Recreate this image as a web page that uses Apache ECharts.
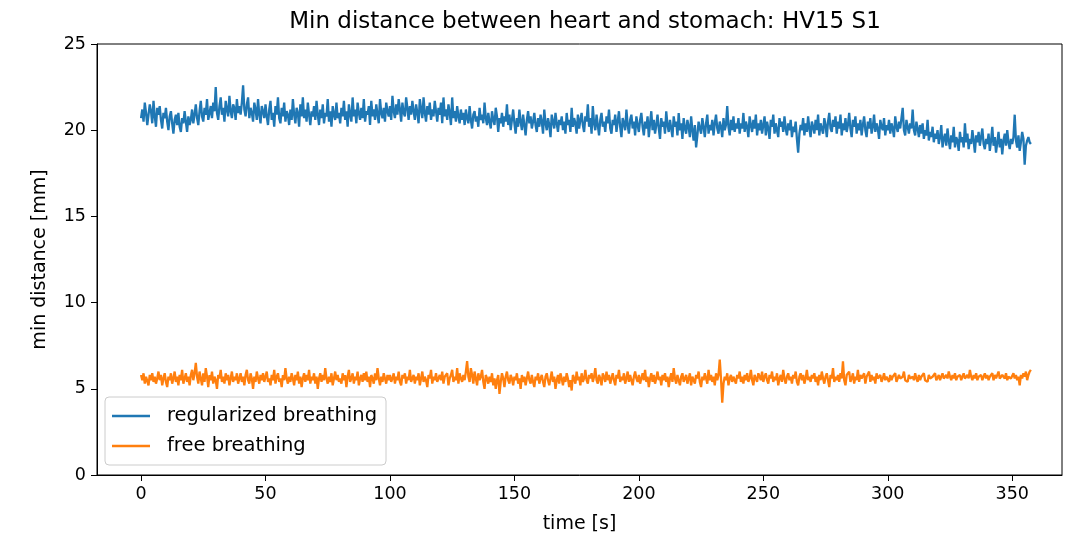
<!DOCTYPE html>
<html>
<head>
<meta charset="utf-8">
<script src="https://cdn.jsdelivr.net/npm/echarts@6/dist/echarts.min.js"></script>
<style>html,body{margin:0;padding:0;background:#fff}#c{width:1075px;height:536px}</style>
</head>
<body>
<div id="c"></div>
<script>
// Sampling step of the recordings [s]
const sampleStep = 0.5;

const regularized = [
20.7,21.2,20.5,21.6,21.0,20.3,20.9,21.5,21.1,20.4,21.7,20.8,20.2,21.3,20.9,21.4,20.6,20.1,21.0,20.7,
21.3,20.5,20.0,20.8,21.1,20.4,19.8,20.6,20.9,20.3,21.0,20.2,19.9,20.7,20.4,21.1,20.5,19.9,20.8,20.3,
20.6,21.2,20.4,20.9,21.5,20.7,20.3,21.1,21.7,20.8,20.5,21.3,20.9,21.8,20.6,21.0,21.4,20.7,21.6,21.1,
22.5,21.0,20.6,21.4,21.9,20.9,21.3,20.5,21.7,21.2,20.8,22.0,21.1,20.7,21.5,21.3,20.6,21.8,21.0,21.4,
20.9,21.6,22.6,21.2,20.8,21.5,21.9,20.7,21.3,21.0,20.5,21.6,21.2,20.6,21.8,20.9,20.4,21.4,21.1,20.7,
21.5,20.8,20.3,21.2,21.7,20.6,21.0,20.2,21.4,20.9,21.9,20.7,20.4,21.3,20.8,21.6,20.5,21.1,20.9,20.3,
21.2,20.6,21.8,20.9,20.4,21.3,21.0,20.2,21.5,20.8,21.9,20.7,21.2,20.5,21.6,20.9,20.3,21.1,20.8,21.4,
20.6,21.7,20.9,20.3,21.2,20.7,21.5,20.4,21.0,20.8,21.8,20.5,21.1,20.2,21.4,20.9,20.6,21.6,20.7,21.0,
20.4,21.3,20.8,21.7,20.6,21.1,20.2,21.5,20.9,20.5,21.9,20.8,21.2,20.4,21.6,21.0,20.6,21.3,20.7,21.8,
20.5,21.1,20.9,21.4,20.3,21.7,20.8,21.2,20.6,21.5,20.9,20.4,21.8,21.0,20.7,21.3,20.5,21.6,21.1,20.8,
21.4,20.6,22.0,21.1,20.7,21.5,20.9,21.8,21.2,20.5,21.6,21.0,20.8,21.9,21.3,20.6,21.4,20.9,21.7,21.1,
20.6,21.5,21.0,20.4,21.8,21.2,20.7,21.9,21.0,20.5,21.4,20.9,21.6,20.6,21.2,20.8,21.7,21.1,20.5,21.3,
20.9,21.6,20.4,21.9,20.8,21.2,20.6,21.5,21.0,20.3,21.9,20.7,21.1,20.5,21.4,20.8,20.4,21.2,20.6,21.0,
20.3,21.2,20.7,20.4,21.4,20.6,20.1,20.9,21.1,20.5,20.8,20.2,21.3,20.6,20.9,20.4,21.6,20.7,20.3,21.0,
20.5,20.1,21.1,20.6,20.3,21.3,20.8,19.9,20.7,20.4,21.0,20.2,20.8,20.5,21.5,20.3,20.9,20.0,20.6,21.2,
20.4,19.8,20.7,20.2,21.2,20.5,20.0,20.9,20.3,19.7,20.6,21.1,20.4,20.8,20.1,20.5,21.0,20.3,19.9,20.7,
20.2,20.9,20.5,19.8,21.2,20.4,20.0,20.7,20.3,19.6,20.9,20.5,20.1,21.0,20.4,19.9,20.6,20.3,20.8,20.0,
20.5,19.8,21.0,20.3,20.6,19.9,21.3,20.2,20.7,20.4,19.8,20.9,20.1,20.6,21.0,20.3,19.9,20.8,20.5,21.5,
20.2,20.7,19.8,21.4,20.4,20.0,20.9,20.3,19.7,20.6,21.0,20.2,20.5,19.9,20.8,20.4,21.2,20.1,19.8,20.6,
20.3,20.9,19.9,20.5,21.1,20.2,19.6,20.7,20.4,20.0,21.2,20.3,19.8,20.6,20.9,20.1,20.5,19.7,20.8,20.3,
19.9,20.6,21.0,20.2,19.7,20.5,20.1,20.8,19.6,20.4,21.1,20.0,20.6,19.8,20.3,20.9,20.1,19.5,20.7,20.2,
20.5,19.8,21.1,20.3,19.9,20.6,20.1,19.6,20.8,20.2,20.5,19.7,21.0,20.0,20.4,19.5,20.7,20.1,19.8,20.6,
20.2,19.6,20.8,20.0,19.4,20.3,19.0,19.7,20.5,20.1,19.8,20.7,20.2,19.6,20.4,20.9,19.8,20.3,20.0,20.6,
19.7,20.4,20.9,20.1,19.8,20.5,20.2,19.6,20.7,20.0,20.3,21.4,20.2,19.7,20.6,20.0,20.8,19.9,20.4,20.1,
20.7,19.8,20.4,20.1,21.0,19.9,20.5,20.2,19.6,20.8,20.3,19.9,20.6,20.1,20.9,19.7,20.4,20.0,20.6,19.8,
20.3,20.8,19.7,20.5,20.1,19.5,20.6,20.2,20.9,19.8,20.4,20.0,19.6,20.7,20.2,20.5,19.9,20.8,20.1,19.7,
20.4,20.0,20.6,19.6,20.2,19.9,20.5,19.5,18.7,19.8,20.3,20.0,20.7,19.7,20.4,19.9,20.8,20.1,19.6,20.5,
20.2,19.8,20.6,20.0,20.9,19.7,20.4,20.1,19.8,20.7,20.3,19.6,20.5,21.0,20.1,19.9,20.6,20.2,20.8,19.8,
20.5,20.1,20.9,19.7,20.4,20.0,20.7,19.9,20.3,21.0,20.1,19.6,20.6,20.2,20.8,19.8,20.4,20.0,20.6,19.7,
20.3,20.8,20.0,19.6,20.5,20.1,20.7,19.8,20.2,20.9,19.9,20.4,20.1,19.5,20.6,20.2,20.0,20.7,19.7,20.3,
20.0,20.6,19.8,20.4,20.1,19.6,20.8,20.2,19.9,20.5,20.1,20.7,21.3,20.0,19.7,20.6,20.2,19.8,20.4,20.1,
21.2,20.0,19.7,20.5,20.1,19.6,20.3,19.8,20.4,19.5,20.0,19.7,20.6,19.4,19.9,19.6,20.2,19.3,19.8,19.5,
20.0,19.2,19.6,20.3,19.0,19.5,19.8,19.1,20.1,19.4,18.9,19.7,19.3,20.2,19.0,19.6,19.4,18.8,19.9,19.3,
19.6,19.0,20.4,19.3,19.8,18.9,19.5,19.2,20.0,19.4,18.7,19.7,19.3,19.9,19.1,19.6,20.1,19.2,18.9,19.5,
19.2,19.8,18.8,19.4,20.2,19.1,19.6,18.7,19.3,19.9,19.0,19.5,18.6,19.4,19.8,19.1,20.0,19.3,18.9,19.5,
19.2,19.6,20.9,19.4,19.0,19.7,18.8,19.3,19.9,19.5,18.0,19.1,19.4,19.6,19.3,19.2
];

const free = [
5.8,5.5,5.9,5.3,5.7,5.6,5.2,5.8,5.5,5.9,5.4,5.7,5.3,5.6,6.0,5.5,5.8,5.2,5.6,5.9,
5.4,5.1,5.7,5.5,5.9,5.3,5.6,6.0,5.4,5.7,5.2,5.8,5.5,6.1,5.3,5.6,5.9,5.4,5.7,5.2,
5.8,6.1,5.5,5.9,6.5,5.7,5.3,6.0,5.6,5.2,5.9,5.4,6.2,5.7,5.1,5.8,5.5,6.0,5.3,5.7,
5.5,5.0,5.8,5.6,6.1,5.4,5.7,5.3,5.9,5.5,5.8,5.2,5.6,6.0,5.4,5.7,5.5,5.9,5.3,5.6,
5.9,5.4,5.7,5.2,5.8,6.1,5.5,5.3,5.9,5.6,5.0,5.7,5.4,6.0,5.6,5.3,5.8,5.5,5.9,5.4,
5.7,6.0,5.4,5.6,5.2,5.8,5.5,6.1,5.3,5.7,5.9,5.4,5.6,5.1,5.8,5.5,6.2,5.6,5.3,5.7,
5.4,5.9,5.6,5.2,5.8,5.5,6.0,5.3,5.7,5.1,5.6,5.9,5.4,5.8,5.5,6.1,5.3,5.7,5.5,5.9,
5.3,5.7,5.0,5.6,5.9,5.4,5.8,5.5,6.2,5.6,5.3,5.7,5.4,5.9,5.2,5.6,6.0,5.5,5.8,5.4,
5.6,5.3,5.9,5.5,5.8,5.1,5.7,6.1,5.4,5.6,5.9,5.3,5.7,5.5,6.0,5.2,5.6,5.8,5.4,5.9,
5.5,6.0,5.4,5.7,5.1,5.8,5.6,5.3,5.9,5.5,6.2,5.6,5.2,5.7,5.4,5.9,5.6,5.3,5.8,5.5,
5.8,5.4,5.6,5.9,5.3,5.7,5.5,6.0,5.4,5.2,5.8,5.6,5.9,5.3,5.7,5.5,6.1,5.4,5.6,5.8,
5.3,5.7,5.5,5.9,5.2,5.6,6.0,5.4,5.7,5.5,5.1,5.8,5.6,6.1,5.3,5.7,5.5,5.9,5.4,5.6,
5.8,5.5,6.0,5.3,5.7,5.6,5.9,5.2,5.6,5.8,6.1,5.4,5.7,5.5,6.2,5.3,5.9,5.6,5.4,5.8,
5.5,6.0,6.6,5.7,5.4,6.2,5.8,5.3,6.0,5.6,5.2,5.9,5.5,5.7,6.1,5.4,5.0,5.8,5.6,5.3,
5.7,5.4,5.9,5.2,5.6,5.0,5.5,5.8,4.7,5.4,5.9,5.6,5.1,5.7,6.0,5.5,5.3,5.8,5.6,5.2,
5.7,5.5,5.9,5.3,5.6,5.0,5.8,5.4,5.7,5.2,5.6,6.0,5.5,5.3,5.8,5.4,5.1,5.7,5.5,5.9,
5.3,5.6,5.8,5.4,5.1,5.7,5.9,5.5,5.2,5.6,6.0,5.4,5.7,5.0,5.5,5.8,5.3,5.9,5.6,5.2,
5.7,5.4,5.9,5.6,5.1,5.5,4.9,5.8,5.6,5.3,6.0,5.5,5.7,5.2,5.9,5.4,5.6,6.1,5.5,5.3,
5.8,5.6,5.9,5.4,5.7,6.2,5.5,5.3,5.8,5.6,5.2,5.9,5.7,5.4,6.0,5.5,5.8,5.3,5.6,5.9,
5.5,5.2,5.8,5.6,6.1,5.4,5.7,5.5,5.9,5.3,5.6,6.0,5.4,5.8,5.5,5.2,5.7,6.0,5.6,5.4,
5.8,5.3,5.6,5.9,5.5,6.1,5.4,5.7,5.1,5.6,5.9,5.4,5.8,5.3,5.6,6.0,5.5,5.7,5.2,5.8,
5.5,5.9,5.4,5.7,5.1,5.6,5.9,5.4,6.2,5.6,5.3,5.8,5.5,5.2,5.7,5.9,5.4,5.6,5.8,5.3,
5.6,5.9,5.2,5.7,5.5,5.3,5.8,5.6,6.0,5.4,5.1,5.7,5.5,5.9,5.6,5.3,6.1,5.5,5.8,5.4,
5.7,5.2,5.9,5.5,5.8,6.7,5.6,4.2,5.3,5.7,5.5,5.9,5.2,5.6,5.8,5.4,5.7,5.5,5.3,5.8,
5.6,6.0,5.4,5.7,5.3,5.8,5.5,5.9,5.4,5.6,6.1,5.5,5.2,5.8,5.6,5.4,5.9,5.7,5.5,6.0,
5.4,5.7,5.9,5.5,5.3,5.8,5.6,6.0,5.4,5.7,5.5,5.9,5.2,5.6,5.8,5.4,6.1,5.6,5.3,5.7,
5.9,5.5,5.7,5.3,5.8,5.6,6.0,5.4,5.2,5.7,5.9,5.5,5.8,5.3,5.6,6.1,5.5,5.7,5.4,5.8,
5.6,5.9,5.4,5.7,5.2,5.8,5.5,6.0,5.6,5.3,5.7,5.9,5.5,5.1,5.8,5.6,6.2,5.4,5.7,5.5,
5.8,5.4,5.9,5.6,6.6,5.5,5.2,5.8,5.7,6.0,5.4,5.6,5.9,5.3,5.7,5.5,6.1,5.4,5.8,5.6,
5.5,5.9,5.3,5.7,5.6,6.0,5.4,5.8,5.5,5.7,5.3,5.9,5.6,5.5,5.8,5.4,5.6,5.9,5.5,5.7,
5.6,5.4,5.8,5.5,5.7,5.6,5.9,5.4,5.5,5.8,5.6,5.5,5.7,6.0,5.5,5.6,5.4,5.8,5.6,5.5,
5.7,5.5,5.9,5.6,5.4,5.8,5.5,5.7,5.6,5.9,5.5,5.6,5.4,5.8,5.6,5.5,5.7,5.6,5.9,5.5,
5.6,5.8,5.5,5.7,5.9,5.6,5.5,5.8,5.6,6.0,5.7,5.5,5.8,5.6,5.9,5.5,5.7,5.6,5.8,5.5,
5.7,5.9,5.6,5.5,5.8,5.6,6.1,5.7,5.5,5.8,5.6,5.9,5.5,5.7,5.6,5.8,5.5,5.7,5.9,5.6,
5.8,5.5,5.7,5.6,5.9,5.5,5.8,5.6,5.7,6.0,5.6,5.5,5.8,5.7,5.6,5.9,5.5,5.7,5.8,5.6,
5.7,5.9,5.6,5.8,5.5,5.7,5.2,5.8,5.6,5.9,5.7,6.0,5.5,5.8,6.0,6.1
];

const xTicks = [0, 50, 100, 150, 200, 250, 300, 350];
const xLimits = [-17.7, 370];
const yTicks = [0, 5, 10, 15, 20, 25];

const toPairs = arr => arr.map((v, i) => [i * sampleStep, v]);

const FONT = 'DejaVu Sans';
const chart = echarts.init(document.getElementById('c'), null, {renderer: 'canvas'});
chart.setOption({
  animation: false,
  backgroundColor: '#fff',
  title: {
    text: 'Min distance between heart and stomach: HV15 S1',
    left: 585, top: 11, textAlign: 'center', padding: 0,
    textStyle: {fontFamily: FONT, fontSize: 23, fontWeight: 'normal', color: '#000'}
  },
  grid: {left: 97, right: 13, top: 44, bottom: 61, containLabel: false, outerBoundsMode: 'none',
         show: true, borderColor: '#000', borderWidth: 1, backgroundColor: 'transparent'},
  legend: {
    orient: 'vertical', left: 105, top: 397,
    data: ['regularized breathing', 'free breathing'],
    icon: 'rect',
    itemWidth: 38, itemHeight: 2.5, itemGap: 8,
    padding: [8, 9, 8, 7],
    borderColor: '#cccccc', borderWidth: 1, borderRadius: 4,
    backgroundColor: 'rgba(255,255,255,0.8)',
    textStyle: {fontFamily: FONT, fontSize: 19.5, lineHeight: 22, color: '#000', padding: [0, 0, 0, 12]}
  },
  xAxis: {
    type: 'value', min: xLimits[0], max: xLimits[1],
    name: 'time [s]', nameLocation: 'middle', nameGap: 40,
    nameTextStyle: {fontFamily: FONT, fontSize: 19, color: '#000'},
    axisLine: {show: true, onZero: false, lineStyle: {color: '#000', width: 1}},
    axisTick: {show: true, inside: false, length: 6, customValues: xTicks, lineStyle: {color: '#000', width: 1}},
    axisLabel: {show: true, margin: 10, customValues: xTicks, fontFamily: FONT, fontSize: 17.5, color: '#000'},
    splitLine: {show: false}
  },
  yAxis: {
    type: 'value', min: yTicks[0], max: yTicks[yTicks.length - 1], interval: 5,
    name: 'min distance [mm]', nameLocation: 'middle', nameGap: 47,
    nameTextStyle: {fontFamily: FONT, fontSize: 19, color: '#000'},
    axisLine: {show: true, onZero: false, lineStyle: {color: '#000', width: 1}},
    axisTick: {show: true, inside: false, length: 6, lineStyle: {color: '#000', width: 1}},
    axisLabel: {show: true, margin: 11, fontFamily: FONT, fontSize: 17.5, color: '#000'},
    splitLine: {show: false}
  },
  series: [
    {name: 'regularized breathing', type: 'line', data: toPairs(regularized), symbol: 'none',
     lineStyle: {color: '#1f77b4', width: 2.3}, itemStyle: {color: '#1f77b4'}},
    {name: 'free breathing', type: 'line', data: toPairs(free), symbol: 'none',
     lineStyle: {color: '#ff7f0e', width: 2.3}, itemStyle: {color: '#ff7f0e'}}
  ]
});
</script>
</body>
</html>
